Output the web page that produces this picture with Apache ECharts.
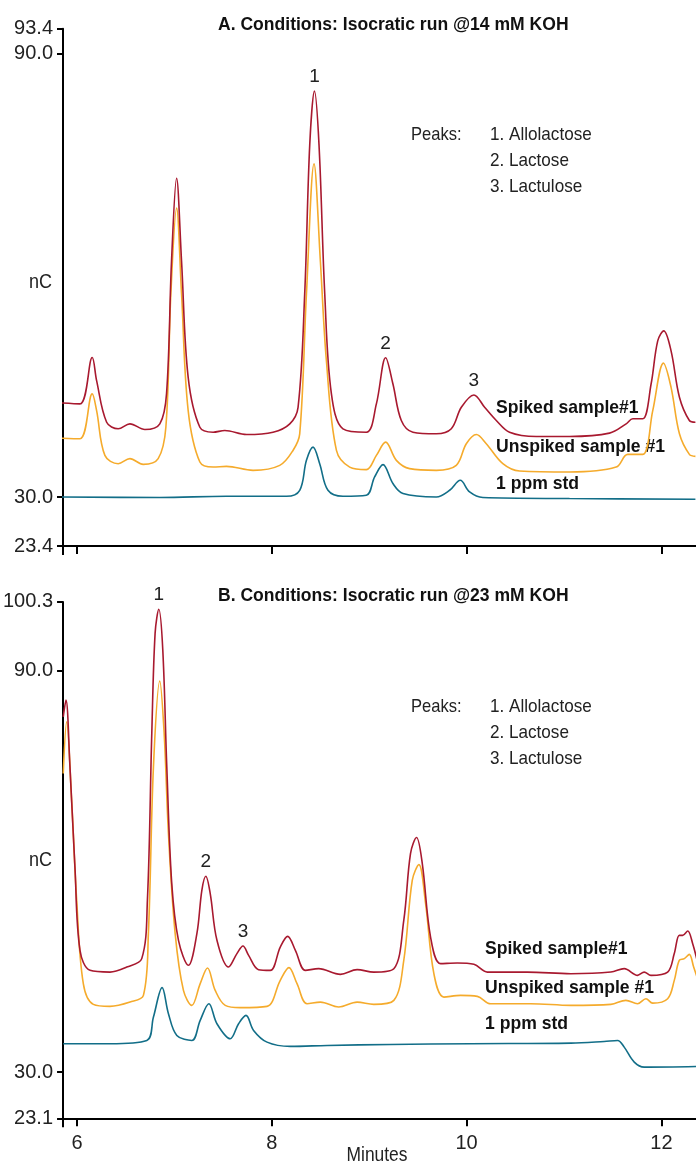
<!DOCTYPE html>
<html>
<head>
<meta charset="utf-8">
<script src="https://cdn.jsdelivr.net/npm/echarts@6/dist/echarts.min.js"></script>
<style>
  html, body { margin: 0; padding: 0; background: #fff; }
  #chart { width: 696px; height: 1161px; }
</style>
</head>
<body>
<div id="chart"></div>
<script>
// [minutes, nC], panel A (14 mM KOH)
const spikedA = [
  [5.826, 42.76], [6.031, 42.63], [6.157, 48.91], [6.202, 45.77], [6.305, 40.15], [6.424, 39.26],
  [6.544, 39.93], [6.697, 39.16], [6.851, 39.93], [6.920, 44.02], [6.971, 61.94], [7.023, 73.17],
  [7.074, 61.94], [7.142, 46.21], [7.262, 39.47], [7.398, 38.80], [7.518, 39.03], [7.741, 38.49],
  [8.013, 38.80], [8.185, 39.93], [8.270, 42.17], [8.338, 57.49], [8.390, 77.71], [8.438, 84.95],
  [8.485, 77.71], [8.544, 57.49], [8.612, 44.02], [8.731, 39.26], [8.971, 38.80], [9.074, 42.63],
  [9.169, 48.87], [9.244, 45.32], [9.330, 40.38], [9.449, 38.80], [9.689, 38.58], [9.843, 39.26],
  [9.946, 42.17], [10.075, 43.84], [10.185, 42.17], [10.305, 40.38], [10.441, 38.80], [10.715, 38.22],
  [11.056, 38.22], [11.467, 38.67], [11.638, 39.93], [11.706, 40.61], [11.808, 40.61], [11.894, 45.32],
  [11.962, 51.16], [12.024, 52.51], [12.099, 49.81], [12.185, 43.52], [12.287, 40.38], [12.349, 40.15]
];
const unspikedA = [
  [5.826, 37.99], [6.031, 37.91], [6.157, 43.98], [6.202, 41.72], [6.287, 35.66], [6.424, 34.54],
  [6.544, 35.22], [6.680, 34.45], [6.834, 35.22], [6.913, 39.47], [6.964, 57.49], [7.023, 69.12],
  [7.074, 57.49], [7.142, 41.72], [7.262, 34.76], [7.398, 34.08], [7.535, 34.18], [7.808, 33.64],
  [8.082, 34.31], [8.218, 36.33], [8.287, 38.58], [8.356, 57.49], [8.434, 75.11], [8.499, 61.94],
  [8.561, 48.46], [8.664, 36.33], [8.800, 34.08], [8.971, 33.73], [9.074, 35.66], [9.169, 37.45],
  [9.279, 34.99], [9.415, 33.87], [9.689, 33.64], [9.894, 34.31], [9.997, 37.24], [10.100, 38.49],
  [10.202, 37.24], [10.372, 34.54], [10.544, 33.54], [11.056, 33.41], [11.535, 34.08], [11.654, 35.80],
  [11.808, 35.80], [11.911, 41.72], [12.021, 48.15], [12.099, 44.87], [12.185, 38.58], [12.287, 35.80],
  [12.349, 35.53]
];
const stdA = [
  [5.826, 30.04], [6.851, 29.96], [7.535, 30.13], [8.151, 30.13], [8.287, 30.94], [8.356, 34.99],
  [8.424, 36.78], [8.492, 34.54], [8.577, 30.94], [8.731, 30.13], [8.971, 30.27], [9.056, 32.74],
  [9.142, 34.41], [9.244, 31.85], [9.347, 30.50], [9.689, 30.04], [9.826, 30.94], [9.935, 32.29],
  [10.031, 30.71], [10.167, 29.96], [11.056, 29.82], [12.349, 29.73]
];

// panel B (23 mM KOH)
const spikedB = [
  [5.859, 83.12], [5.887, 85.62], [5.928, 75.64], [5.979, 60.67], [6.031, 48.21], [6.134, 45.22],
  [6.339, 44.96], [6.511, 45.71], [6.665, 46.97], [6.723, 55.69], [6.768, 80.63], [6.802, 95.60],
  [6.840, 99.19], [6.881, 93.10], [6.922, 75.64], [6.973, 58.19], [7.042, 49.71], [7.144, 45.97],
  [7.231, 50.71], [7.282, 57.19], [7.323, 59.28], [7.368, 56.69], [7.437, 49.71], [7.556, 45.71],
  [7.642, 47.72], [7.704, 48.85], [7.762, 47.46], [7.864, 45.32], [7.985, 45.22], [8.087, 48.70],
  [8.163, 50.30], [8.242, 48.21], [8.345, 45.22], [8.481, 45.47], [8.704, 44.62], [8.876, 45.32],
  [9.047, 44.96], [9.253, 45.47], [9.355, 52.70], [9.424, 62.68], [9.486, 65.07], [9.545, 61.18],
  [9.630, 50.20], [9.733, 46.22], [9.904, 46.31], [10.075, 46.12], [10.213, 44.96], [10.624, 44.96],
  [11.070, 44.72], [11.481, 44.96], [11.618, 45.47], [11.755, 44.47], [11.823, 44.96], [11.892, 44.47],
  [12.064, 44.96], [12.132, 47.72], [12.183, 50.45], [12.218, 50.45], [12.270, 51.10], [12.321, 49.21],
  [12.366, 46.71]
];
const unspikedB = [
  [5.859, 74.65], [5.894, 82.37], [5.945, 70.66], [5.997, 55.69], [6.065, 43.23], [6.168, 40.13],
  [6.339, 39.83], [6.545, 40.47], [6.682, 41.48], [6.733, 50.71], [6.785, 75.64], [6.850, 88.46],
  [6.895, 80.63], [6.939, 65.67], [7.008, 50.71], [7.093, 42.22], [7.179, 39.98], [7.265, 43.23],
  [7.340, 45.56], [7.419, 42.22], [7.522, 39.98], [7.676, 39.64], [7.951, 39.83], [8.087, 43.72],
  [8.176, 45.62], [8.259, 43.23], [8.362, 40.23], [8.499, 40.47], [8.687, 39.73], [8.876, 40.47],
  [9.047, 40.13], [9.253, 40.73], [9.355, 46.71], [9.442, 58.68], [9.510, 61.03], [9.579, 55.20],
  [9.664, 44.72], [9.767, 41.22], [9.938, 41.48], [10.110, 41.33], [10.247, 40.23], [10.658, 40.23],
  [11.070, 39.98], [11.481, 40.13], [11.635, 40.73], [11.755, 40.23], [11.841, 40.98], [11.910, 40.32],
  [12.064, 40.98], [12.132, 43.72], [12.183, 46.71], [12.235, 46.97], [12.286, 47.61], [12.331, 45.71],
  [12.366, 44.21]
];
const stdB = [
  [5.859, 34.25], [6.339, 34.25], [6.717, 34.74], [6.785, 38.23], [6.874, 42.63], [6.939, 38.74],
  [7.025, 35.49], [7.179, 34.74], [7.265, 37.74], [7.354, 40.23], [7.437, 37.24], [7.573, 35.00],
  [7.659, 37.24], [7.735, 38.48], [7.813, 36.24], [7.951, 34.49], [8.190, 33.85], [8.568, 33.99],
  [9.219, 34.14], [10.041, 34.25], [11.070, 34.34], [11.412, 34.59], [11.550, 34.74], [11.618, 33.74],
  [11.721, 31.50], [11.823, 30.75], [12.366, 30.85]
];

// numbered peaks (retention times on the spiked trace)
const peakIds = ['1', '2', '3'];
const peakTimesA = [8.438, 9.169, 10.075];
const peakTimesB = [6.840, 7.323, 7.704];
const peakNames = ['1. Allolactose', '2. Lactose', '3. Lactulose'];
const traceNames = ['Spiked sample#1', 'Unspiked sample #1', '1 ppm std'];

const xTicks = [6, 8, 10, 12];
const yTicksA = [23.4, 30.0, 90.0, 93.4];
const yTicksB = [23.1, 30.0, 90.0, 100.3];
const titles = ['A. Conditions: Isocratic run @14 mM KOH', 'B. Conditions: Isocratic run @23 mM KOH'];

const FONT = "'Liberation Sans Narrow', 'Arial Narrow', 'Liberation Sans', sans-serif";
const colors = ['#a8192f', '#f5ab2c', '#126e88'];

const grids = [
  { left: 63, right: 0, top: 28.7, height: 517.3 },
  { left: 63, right: 0, top: 601.9, height: 516.4 }
];

const chart = echarts.init(document.getElementById('chart'));

function xAxis(idx, withLabels) {
  return {
    type: 'value', gridIndex: idx, min: 5.857, max: 12.355,
    splitLine: { show: false },
    axisLine: { onZero: false, lineStyle: { color: '#000', width: 2 } },
    axisTick: { customValues: xTicks, length: 8, lineStyle: { color: '#000', width: 2 } },
    axisLabel: {
      show: withLabels, customValues: xTicks, margin: 15,
      fontFamily: FONT, fontSize: 20, color: '#222'
    }
  };
}

function yAxis(idx, min, max, ticks) {
  return {
    type: 'value', gridIndex: idx, min: min, max: max,
    splitLine: { show: false },
    axisLine: { lineStyle: { color: '#000', width: 2 } },
    axisTick: { customValues: ticks, length: 6, lineStyle: { color: '#000', width: 2 } },
    axisLabel: {
      customValues: ticks, margin: 10, formatter: v => v.toFixed(1),
      fontFamily: FONT, fontSize: 20, color: '#222'
    }
  };
}

function peakMarks(data, times) {
  return {
    symbol: 'circle', symbolSize: 0, silent: true,
    label: { show: true, position: 'top', distance: 5, formatter: '{b}', fontFamily: FONT, fontSize: 19, color: '#222' },
    data: times.map((t, i) => {
      const p = data.find(d => d[0] === t);
      return { name: peakIds[i], coord: [p[0], p[1]] };
    })
  };
}

function trace(data, idx, color, marks) {
  const s = {
    type: 'line', xAxisIndex: idx, yAxisIndex: idx, data: data,
    showSymbol: false, smooth: 0.35, clip: true, silent: true,
    lineStyle: { color: color, width: 1.6 }
  };
  if (marks) s.markPoint = marks;
  return s;
}

// plain text, squeezed horizontally to mimic the condensed face
function text(str, x, y, opts, sx) {
  return {
    type: 'text', x: x, y: y, scaleX: sx || 1, silent: true,
    style: Object.assign({
      text: str, fontFamily: FONT, fontSize: 19, fill: '#222',
      align: 'left', verticalAlign: 'middle'
    }, opts || {})
  };
}

const graphics = [];
// titles
graphics.push(text(titles[0], 218, 25, { fontWeight: 'bold', fontSize: 18, fill: '#111' }, 0.975));
graphics.push(text(titles[1], 218, 596, { fontWeight: 'bold', fontSize: 18, fill: '#111' }, 0.975));
// y names
graphics.push(text('nC', 52, 282, { align: 'right', fontSize: 20 }, 0.9));
graphics.push(text('nC', 52, 860, { align: 'right', fontSize: 20 }, 0.9));
// x name
graphics.push(text('Minutes', 377, 1155, { align: 'center', fontSize: 20 }, 0.87));
// peak key
[135, 707].forEach(y0 => {
  graphics.push(text('Peaks:', 411, y0, null, 0.87));
  peakNames.forEach((n, i) => graphics.push(text(n, 490, y0 + i * 26, null, 0.9)));
});
// trace names
const traceY = [[408, 447, 484], [949, 988, 1024]];
const traceX = [496, 485];
traceY.forEach((ys, p) => {
  traceNames.forEach((n, i) => graphics.push(text(n, traceX[p], ys[i], { fontWeight: 'bold', fontSize: 19, fill: '#111' }, 0.925)));
});
// y axis lines run a little past the x axis
grids.forEach(g => {
  const yb = g.top + g.height;
  graphics.push({
    type: 'line', silent: true,
    shape: { x1: g.left, y1: yb, x2: g.left, y2: yb + 9 },
    style: { stroke: '#000', lineWidth: 2 }
  });
});

chart.setOption({
  animation: false,
  backgroundColor: '#fff',
  grid: grids,
  xAxis: [xAxis(0, false), xAxis(1, true)],
  yAxis: [yAxis(0, 23.4, 93.4, yTicksA), yAxis(1, 23.1, 100.3, yTicksB)],
  series: [
    trace(unspikedA, 0, colors[1]),
    trace(stdA, 0, colors[2]),
    trace(spikedA, 0, colors[0], peakMarks(spikedA, peakTimesA)),
    trace(unspikedB, 1, colors[1]),
    trace(stdB, 1, colors[2]),
    trace(spikedB, 1, colors[0], peakMarks(spikedB, peakTimesB))
  ],
  graphic: graphics
});
</script>
</body>
</html>
